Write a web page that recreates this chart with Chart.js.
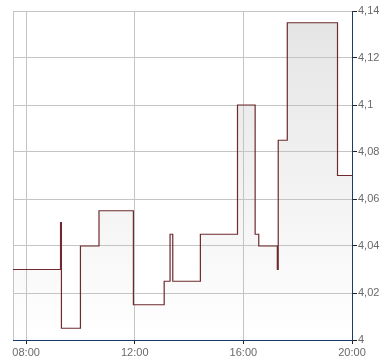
<!DOCTYPE html>
<html>
<head>
<meta charset="utf-8">
<script src="https://cdn.jsdelivr.net/npm/chart.js@4"></script>
<style>
  html, body { margin: 0; padding: 0; background: #fff; }
  #wrap { width: 390px; height: 364px; }
</style>
</head>
<body>
<div id="wrap"><canvas id="c" width="390" height="364"></canvas></div>
<script>
// ── Data ────────────────────────────────────────────────────────────────
const times  = ['07:31', '09:16', '09:18', '10:00', '10:41', '11:57', '13:05', '13:18', '13:24',
                '14:25', '15:47', '16:26', '16:34', '17:15', '17:17', '17:37', '19:28', '20:00'];
const prices = [4.03, 4.05, 4.005, 4.04, 4.055, 4.015, 4.025, 4.045, 4.025,
                4.045, 4.10, 4.045, 4.04, 4.03, 4.085, 4.135, 4.07, 4.07];
const xTickLabels = ['08:00', '12:00', '16:00', '20:00'];
const yTicks = [4, 4.02, 4.04, 4.06, 4.08, 4.1, 4.12, 4.14];

const toHours = s => { const [h, m] = s.split(':').map(Number); return h + m / 60; };
const points = times.map((t, i) => ({ x: toHours(t), y: prices[i] }));

const font = { family: "'Liberation Sans', Arial, sans-serif", size: 11 };
const gridGrey = '#c4c4c4';
const axisNavy = '#1c3a66';

// left + top frame of the plot area
const framePlugin = {
    id: 'frame',
    beforeDatasetsDraw(chart) {
        const { ctx, chartArea: a } = chart;
        ctx.save();
        ctx.strokeStyle = gridGrey;
        ctx.lineWidth = 1;
        ctx.beginPath();
        ctx.moveTo(a.left + 0.5, a.bottom);
        ctx.lineTo(a.left + 0.5, a.top + 0.5);
        ctx.lineTo(a.right, a.top + 0.5);
        ctx.stroke();
        ctx.restore();
    }
};

new Chart(document.getElementById('c'), {
    type: 'line',
    data: {
        datasets: [{
            data: points,
            stepped: true,
            borderColor: '#6e2a2e',
            borderWidth: 1.2,
            pointRadius: 0,
            fill: 'origin',
            backgroundColor: c => {
                const a = c.chart.chartArea;
                if (!a) return '#f0f0f0';
                const g = c.chart.ctx.createLinearGradient(0, a.top, 0, a.bottom);
                g.addColorStop(0, '#e4e4e4');
                g.addColorStop(1, '#ffffff');
                return g;
            }
        }]
    },
    options: {
        responsive: false, animation: false,
        layout: { padding: { left: 13, top: 11, right: 0, bottom: 0 } },
        plugins: {
            legend: { display: false },
            tooltip: { enabled: false },
            filler: { drawTime: 'beforeDraw' }
        },
        scales: {
            x: {
                type: 'linear', min: toHours('07:31'), max: 20,
                afterBuildTicks: s => { s.ticks = xTickLabels.map(l => ({ value: toHours(l) })); },
                afterFit: s => { s.height = 24; },
                grid: { color: gridGrey, tickColor: '#222', tickLength: 4 },
                border: { color: axisNavy, width: 1 },
                ticks: {
                    color: '#6a6a6a', font, padding: 2, maxRotation: 0, autoSkip: false,
                    callback: v => String(Math.floor(v)).padStart(2, '0') + ':00'
                }
            },
            y: {
                position: 'right', min: 4, max: 4.14,
                afterBuildTicks: s => { s.ticks = yTicks.map(v => ({ value: v })); },
                afterFit: s => { s.width = 38; },
                grid: { color: gridGrey, tickColor: '#222', tickLength: 5 },
                border: { color: axisNavy, width: 1 },
                ticks: {
                    color: '#6a6a6a', font, padding: 1,
                    callback: v => String(Number(v.toFixed(3))).replace('.', ',')
                }
            }
        }
    },
    plugins: [framePlugin]
});
</script>
</body>
</html>
